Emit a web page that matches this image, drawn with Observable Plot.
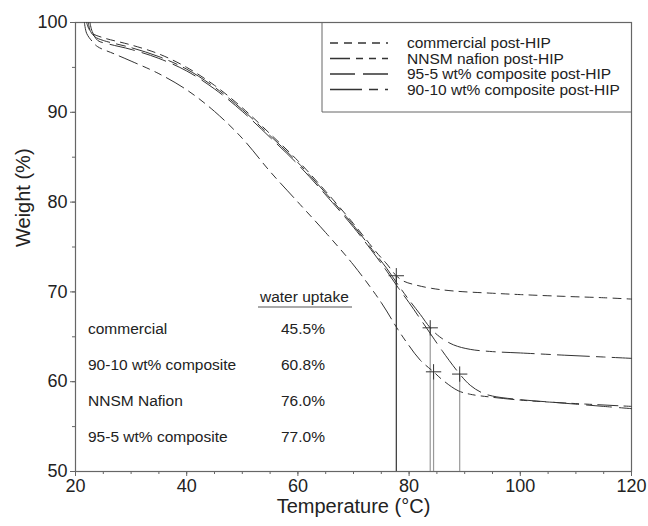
<!DOCTYPE html>
<html>
<head>
<meta charset="utf-8">
<script src="https://cdn.jsdelivr.net/npm/d3@7"></script>
<script src="https://cdn.jsdelivr.net/npm/@observablehq/plot@0.6"></script>
<style>
  body { margin: 0; background: #fff; }
  #wrap { position: relative; width: 648px; height: 526px; font-family: "Liberation Sans", Arial, sans-serif; color: #222; }
  #overlay { position: absolute; left: 0; top: 0; }
</style>
</head>
<body>
<div id="wrap"></div>
<script>
// ---- data ----
const seriesNames = ["commercial post-HIP", "NNSM nafion post-HIP", "95-5 wt% composite post-HIP", "90-10 wt% composite post-HIP"];

const commercial = [[22,100],[22.4,99.3],[23,98.8],[25,98.3],[30,97.5],[35,96.5],[40,95.0],[45,93.0],[50,90.5],[55,87.6],[60,84.6],[65,81.2],[70,77.6],[74,74.5],[76,73.1],[77.7,71.8],[79,71.2],[81,70.8],[84,70.4],[88,70.1],[95,69.85],[100,69.7],[108,69.5],[115,69.35],[120,69.2]];
const nnsm = [[21.6,100],[22,98.8],[23,97.9],[24,97.3],[27,96.5],[30,95.7],[35,94.3],[40,92.5],[45,90.1],[50,87.1],[55,83.4],[60,80.0],[65,76.6],[70,73.0],[75,68.8],[78,65.8],[80,64.0],[82,62.4],[84.4,61.1],[86,60.2],[88.8,59.0],[91,58.6],[94.5,58.3],[100,57.95],[106,57.7],[112,57.5],[120,57.25]];
const comp95 = [[22.6,100],[23,99.0],[24,98.0],[26,97.6],[30,97.0],[35,96.0],[40,94.6],[45,92.6],[50,90.1],[55,87.2],[60,84.2],[65,80.8],[70,77.2],[74,74.0],[76,72.3],[78,70.5],[80,68.8],[82,67.0],[84,65.2],[86,63.4],[89.1,60.85],[91,59.6],[93,58.8],[95,58.4],[100,58.0],[105,57.75],[110,57.5],[115,57.25],[120,57.0]];
const comp90 = [[22.3,100],[22.7,99.0],[23.5,98.4],[25,98.0],[30,97.2],[35,96.2],[40,94.8],[45,92.8],[50,90.3],[55,87.4],[60,84.4],[65,81.0],[70,77.4],[74,74.2],[76,72.6],[78,70.8],[80,69.1],[82,67.5],[83.8,66.0],[85.5,65.0],[88,64.1],[91,63.6],[95,63.35],[100,63.2],[108,62.95],[115,62.75],[120,62.6]];

const crossT = [77.7, 84.4, 89.1, 83.8];
const crossW = [71.8, 61.1, 60.85, 66.0];

const tableNames = ["commercial", "90-10 wt% composite", "NNSM Nafion", "95-5 wt% composite"];
const tableUptake = ["45.5%", "60.8%", "76.0%", "77.0%"];
const tableHeader = "water uptake";

const xTicks = [20, 40, 60, 80, 100, 120];
const yTicks = [50, 60, 70, 80, 90, 100];

// ---- styles ----
const dashes = ["8,6", "20,6,7,6,7,6", "25,8", "32,7,9,7"];
const ruleColors = ["#333", "#999", "#999", "#999"];
const lineColor = "#333";
const axisColor = "#666";

const curves = [commercial, nnsm, comp95, comp90];
const crosses = crossT.map((t, i) => ({t, w: crossW[i], i}));

const M = {left: 75, right: 17, top: 22, bottom: 55};

const chart = Plot.plot({
  width: 648,
  height: 526,
  marginLeft: M.left, marginRight: M.right, marginTop: M.top, marginBottom: M.bottom,
  style: {fontFamily: "'Liberation Sans', Arial, sans-serif", fontSize: "18px", color: "#222", background: "#fff"},
  x: {domain: [20, 120]},
  y: {domain: [50, 100]},
  marks: [
    Plot.frame({stroke: axisColor, strokeWidth: 1.2}),
    Plot.axisX(d3.range(20, 121, 5), {tickSize: 3, text: null, stroke: axisColor, label: null}),
    Plot.axisX(xTicks, {tickSize: 5, tickPadding: 3, stroke: axisColor, fill: "#222", label: null, fontSize: 18}),
    Plot.axisY(d3.range(50, 101, 5), {tickSize: 3, text: null, stroke: axisColor, label: null}),
    Plot.axisY(yTicks, {tickSize: 5, tickPadding: 3, stroke: axisColor, fill: "#222", label: null, fontSize: 18}),
    Plot.ruleX(crosses, {x: "t", y1: 50, y2: "w", stroke: d => ruleColors[d.i], strokeWidth: 1.2}),
    ...curves.map((c, i) => Plot.line(c, {x: d => d[0], y: d => d[1], stroke: lineColor, strokeWidth: 1, strokeDasharray: dashes[i], curve: "catmull-rom"})),
    Plot.dot(crosses, {x: "t", y: "w", symbol: "plus", r: 5, stroke: "#333", strokeWidth: 1}),
    Plot.text(["Temperature (°C)"], {text: d => d, frameAnchor: "bottom", dy: 41, fontSize: 20, fill: "#222"}),
    Plot.text(["Weight (%)"], {text: d => d, frameAnchor: "left", dx: -52, rotate: -90, fontSize: 20, fill: "#222"})
  ]
});
const wrap = document.getElementById("wrap");
wrap.appendChild(chart);

// ---- overlay: legend and water uptake table ----
const ov = d3.select(wrap).append("svg").attr("id", "overlay").attr("width", 648).attr("height", 526)
  .style("font-family", "'Liberation Sans', Arial, sans-serif");

// legend
const lg = ov.append("g").attr("transform", "translate(322,22)");
lg.append("line").attr("x1", 0).attr("x2", 0).attr("y1", 0).attr("y2", 90).attr("stroke", axisColor);
lg.append("line").attr("x1", 0).attr("x2", 309).attr("y1", 90).attr("y2", 90).attr("stroke", axisColor);
seriesNames.forEach((name, i) => {
  const y = 21 + i * 15.5;
  lg.append("line").attr("x1", 8).attr("x2", 66).attr("y1", y).attr("y2", y)
    .attr("stroke", lineColor).attr("stroke-width", 1.3).attr("stroke-dasharray", dashes[i]);
  lg.append("text").attr("x", 85).attr("y", y).attr("dy", "0.35em").attr("font-size", 15.5).attr("fill", "#222").text(name);
});

// table
const tb = ov.append("g");
tb.append("text").attr("x", 260).attr("y", 302).attr("font-size", 15.5).attr("fill", "#222").text(tableHeader);
tb.append("line").attr("x1", 258).attr("x2", 352).attr("y1", 307).attr("y2", 307).attr("stroke", "#555").attr("stroke-width", 1.2);
tableNames.forEach((n, i) => {
  const y = 329 + i * 36;
  tb.append("text").attr("x", 88).attr("y", y).attr("dy", "0.35em").attr("font-size", 15.5).attr("fill", "#222").text(n);
  tb.append("text").attr("x", 281).attr("y", y).attr("dy", "0.35em").attr("font-size", 15.5).attr("fill", "#222").text(tableUptake[i]);
});
</script>
</body>
</html>
